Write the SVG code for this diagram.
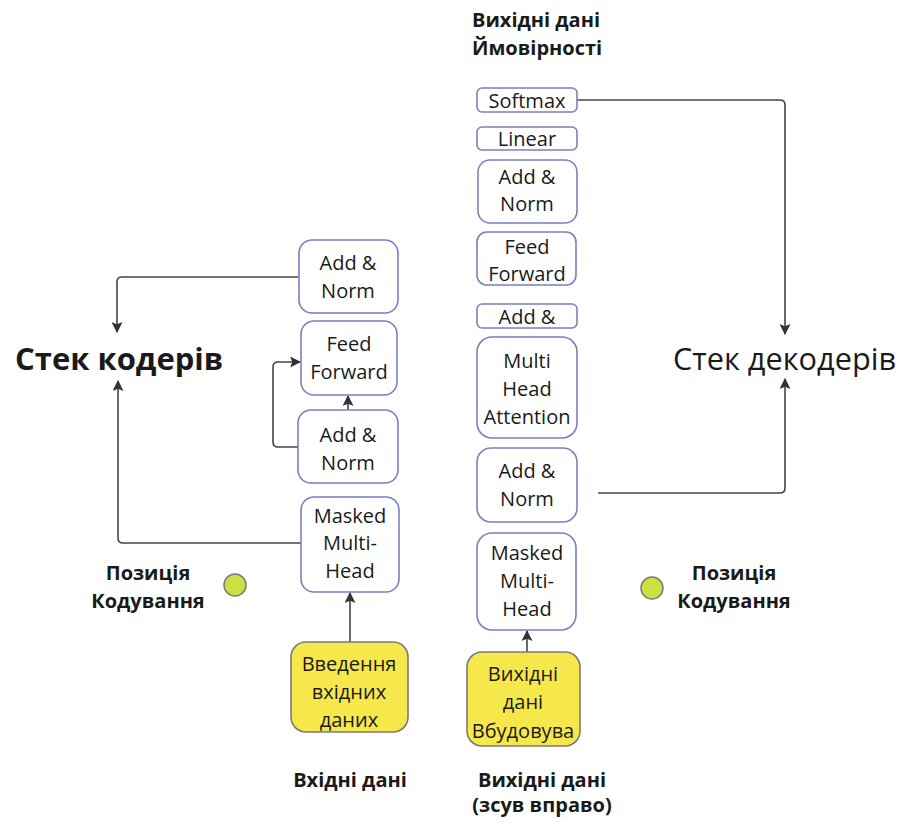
<svg xmlns="http://www.w3.org/2000/svg" width="901" height="823" viewBox="0 0 901 823">
<style>
text{font-family:"Open Sans","Noto Sans","Liberation Sans",sans-serif;fill:#1a1a1a;}
.bx{fill:#ffffff;stroke:#7b80c0;stroke-width:1.6;}
.yb{fill:#f6e84a;stroke:#7a7a7a;stroke-width:1.6;}
.t{font-size:20px;text-anchor:middle;}
.lb{font-size:20px;font-weight:700;text-anchor:middle;}
.ln{fill:none;stroke:#444;stroke-width:1.6;stroke-linejoin:round;}
.dot{fill:#cde041;stroke:#7a7a7a;stroke-width:1.5;}
</style>
<defs>
<marker id="ah2" viewBox="0 0 10 10" refX="9" refY="5" markerWidth="11" markerHeight="11" markerUnits="userSpaceOnUse" orient="auto">
<path d="M0,0 L10,5 L0,10 L2,5 z" fill="#333"/>
</marker>
</defs>

<g id="connectors">
<path class="ln" d="M298,277 H122 Q117,277 117,282 V332" marker-end="url(#ah2)"/>
<path class="ln" d="M301,543 H123 Q118,543 118,538 V381" marker-end="url(#ah2)"/>
<path class="ln" d="M298,447 H278 Q273,447 273,442 V367 Q273,362 278,362 H300" marker-end="url(#ah2)"/>
<path class="ln" d="M348,410 V396" marker-end="url(#ah2)"/>
<path class="ln" d="M350,642 V593" marker-end="url(#ah2)"/>
<path class="ln" d="M527,652 V631" marker-end="url(#ah2)"/>
<path class="ln" d="M577,100 H780 Q785,100 785,105 V334" marker-end="url(#ah2)"/>
<path class="ln" d="M598,493 H780 Q785,493 785,488 V379" marker-end="url(#ah2)"/>
</g>

<g id="enc-addnorm-top"><rect class="bx" x="299" y="240" width="99" height="73" rx="13"/><text class="t" x="348" y="270">Add &amp;</text><text class="t" x="348" y="298">Norm</text></g>
<g id="enc-feedforward"><rect class="bx" x="301" y="321" width="96" height="74" rx="13"/><text class="t" x="349" y="351">Feed</text><text class="t" x="349" y="379">Forward</text></g>
<g id="enc-addnorm"><rect class="bx" x="298" y="410" width="100" height="73" rx="13"/><text class="t" x="348" y="442">Add &amp;</text><text class="t" x="348" y="470">Norm</text></g>
<g id="enc-masked"><rect class="bx" x="301" y="497" width="98" height="95" rx="13"/><text class="t" x="350" y="523">Masked</text><text class="t" x="350" y="550">Multi-</text><text class="t" x="350" y="578">Head</text></g>
<g id="enc-input"><rect class="yb" x="291" y="642" width="117" height="90" rx="15"/><text class="t" x="349" y="671">Введення</text><text class="t" x="349" y="699">вхідних</text><text class="t" x="349" y="727">даних</text></g>

<g id="dec-softmax"><rect class="bx" x="477" y="88" width="100" height="24" rx="5"/><text class="t" x="527" y="108">Softmax</text></g>
<g id="dec-linear"><rect class="bx" x="477" y="127" width="100" height="23" rx="5"/><text class="t" x="527" y="146">Linear</text></g>
<g id="dec-addnorm-top"><rect class="bx" x="478" y="160" width="99" height="63" rx="12"/><text class="t" x="527" y="184">Add &amp;</text><text class="t" x="527" y="211">Norm</text></g>
<g id="dec-feedforward"><rect class="bx" x="477" y="232" width="99" height="53" rx="10"/><text class="t" x="527" y="254">Feed</text><text class="t" x="527" y="281">Forward</text></g>
<g id="dec-add"><rect class="bx" x="477" y="304" width="100" height="24" rx="5"/><text class="t" x="527" y="324">Add &amp;</text></g>
<g id="dec-mha"><rect class="bx" x="477" y="337" width="100" height="101" rx="15"/><text class="t" x="527" y="368">Multi</text><text class="t" x="527" y="396">Head</text><text class="t" x="527" y="424">Attention</text></g>
<g id="dec-addnorm"><rect class="bx" x="477" y="448" width="100" height="74" rx="14"/><text class="t" x="527" y="478">Add &amp;</text><text class="t" x="527" y="506">Norm</text></g>
<g id="dec-masked"><rect class="bx" x="477" y="533" width="99" height="97" rx="15"/><text class="t" x="527" y="560">Masked</text><text class="t" x="527" y="588">Multi-</text><text class="t" x="527" y="616">Head</text></g>
<g id="dec-input"><rect class="yb" x="467" y="652" width="113" height="94" rx="15"/><text class="t" x="523" y="681">Вихідні</text><text class="t" x="523" y="709">дані</text><text class="t" x="523" y="738">Вбудовува</text></g>

<g id="enc-stack"><text x="15" y="370" style="font-size:31px;font-weight:700">Стек кодерів</text></g>
<g id="dec-stack"><text x="673" y="370" style="font-size:30.7px">Стек декодерів</text></g>

<g id="pos-left"><circle class="dot" cx="235" cy="585" r="11"/><text class="lb" x="148" y="580">Позиція</text><text class="lb" x="148" y="608">Кодування</text></g>
<g id="pos-right"><circle class="dot" cx="652" cy="588" r="11"/><text class="lb" x="734" y="580">Позиція</text><text class="lb" x="734" y="608">Кодування</text></g>

<g id="out-prob"><text x="472" y="27" style="font-size:20px;font-weight:700">Вихідні дані</text><text x="472" y="55" style="font-size:20px;font-weight:700">Ймовірності</text></g>
<g id="in-label"><text class="lb" x="350" y="787">Вхідні дані</text></g>
<g id="out-label"><text class="lb" x="542" y="787">Вихідні дані</text><text class="lb" x="542" y="812">(зсув вправо)</text></g>
</svg>
